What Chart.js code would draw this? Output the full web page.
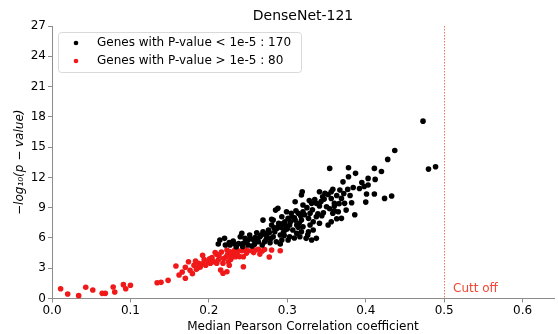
<!DOCTYPE html>
<html>
<head>
<meta charset="utf-8">
<script src="https://cdn.jsdelivr.net/npm/chart.js@4.4.1/dist/chart.umd.min.js"></script>
<style>
  html, body { margin: 0; padding: 0; background: #fff; }
  #wrap { width: 558px; height: 334px; }
</style>
</head>
<body>
<div id="wrap"><canvas id="scatterChart" width="558" height="334"></canvas></div>
<script>
// Genes with P-value < 1e-5 (black)
const sigCorr = [
  0.214, 0.220, 0.227, 0.233, 0.221, 0.240, 0.235, 0.212, 0.244, 0.250,
  0.255, 0.242, 0.246, 0.252, 0.257, 0.261, 0.263, 0.265, 0.269, 0.271,
  0.269, 0.274, 0.276, 0.278, 0.280, 0.282, 0.282, 0.284, 0.286, 0.288,
  0.288, 0.291, 0.293, 0.293, 0.297, 0.297, 0.250,
  0.280, 0.285, 0.295, 0.299, 0.301, 0.301, 0.303, 0.303, 0.305, 0.307,
  0.310, 0.310, 0.312, 0.314, 0.316, 0.318, 0.319, 0.318, 0.318, 0.320,
  0.320, 0.320, 0.324, 0.327, 0.327, 0.329, 0.329, 0.331, 0.331, 0.333,
  0.333, 0.337, 0.337, 0.341, 0.341, 0.341, 0.345, 0.346, 0.348, 0.350,
  0.356, 0.356, 0.356, 0.358, 0.360, 0.365, 0.367, 0.369, 0.369, 0.371,
  0.373, 0.375, 0.337, 0.312, 0.352, 0.354, 0.358,
  0.378, 0.387, 0.378, 0.395, 0.403, 0.411, 0.412, 0.420, 0.428, 0.437,
  0.403, 0.377, 0.401, 0.411, 0.424, 0.433, 0.400, 0.382, 0.360, 0.360,
  0.386, 0.473, 0.480, 0.489,
  0.226, 0.231, 0.238, 0.247, 0.253, 0.259, 0.262, 0.267, 0.272, 0.277,
  0.279, 0.283, 0.287, 0.289, 0.292, 0.295, 0.298, 0.300, 0.304, 0.306,
  0.309, 0.311, 0.315, 0.317, 0.322, 0.325, 0.328, 0.332, 0.335, 0.339,
  0.343, 0.347, 0.352, 0.354, 0.363, 0.366, 0.372, 0.380, 0.392, 0.398,
  0.363, 0.326, 0.309, 0.291, 0.268, 0.243, 0.258, 0.273, 0.296, 0.314,
  0.344, 0.384
];
const sigLogP = [
  5.79, 5.96, 5.30, 5.40, 5.30, 6.12, 5.13, 5.40, 5.47, 5.30,
  5.20, 6.46, 5.96, 6.29, 5.79, 6.51, 5.62, 6.12, 6.61, 5.62,
  7.77, 6.12, 6.78, 5.52, 7.28, 7.77, 6.12, 6.61, 5.62, 8.93,
  7.11, 6.29, 8.10, 5.79, 7.60, 6.78, 5.79,
  7.84, 8.76, 7.45, 8.59, 7.94, 5.79, 7.28, 6.12, 8.44, 6.78,
  9.58, 7.77, 7.28, 8.44, 6.12, 10.25, 10.57, 7.77, 6.61, 9.26,
  8.59, 7.11, 5.96, 7.94, 6.61, 8.44, 7.28, 9.43, 5.79, 7.60,
  6.78, 9.43, 8.10, 10.57, 9.16, 7.45, 10.08, 8.50, 10.42, 9.09,
  10.57, 9.91, 7.60, 8.44, 9.43, 8.59, 10.74, 9.92, 7.94, 11.56,
  9.43, 8.76, 5.96, 6.46, 7.28, 12.89, 10.81,
  12.95, 12.40, 12.06, 11.50, 11.90, 12.89, 11.80, 12.59, 13.78, 14.67,
  11.24, 10.81, 10.35, 10.35, 9.92, 10.15, 9.55, 9.49, 9.16, 8.69,
  8.30, 17.57, 12.82, 13.05,
  5.55, 5.70, 5.45, 5.60, 5.95, 6.05, 5.85, 6.30, 6.40, 6.55,
  5.95, 7.00, 6.95, 7.45, 7.05, 6.55, 7.20, 6.90, 7.60, 8.10,
  8.00, 8.70, 7.45, 8.20, 8.30, 9.00, 9.70, 8.80, 9.80, 8.40,
  9.60, 9.85, 10.30, 8.90, 10.20, 9.40, 10.40, 10.20, 10.90, 11.10,
  7.90, 6.30, 6.00, 5.40, 5.30, 5.15, 5.35, 5.85, 6.25, 7.05,
  8.20, 11.00
];

// Genes with P-value > 1e-5 (red)
const nonSigCorr = [
  0.011, 0.020, 0.034, 0.043, 0.052, 0.064, 0.068, 0.078, 0.080, 0.091,
  0.094, 0.100, 0.134, 0.139, 0.148, 0.158, 0.162, 0.166, 0.170, 0.170,
  0.174, 0.179, 0.181, 0.184, 0.187, 0.189, 0.192, 0.192, 0.199, 0.201,
  0.202, 0.210, 0.210, 0.212, 0.215, 0.218, 0.218, 0.222, 0.223, 0.225,
  0.228, 0.229, 0.232, 0.234, 0.237, 0.223, 0.227, 0.233, 0.242, 0.246,
  0.250, 0.255, 0.259, 0.263, 0.268, 0.280, 0.291, 0.244, 0.244, 0.277,
  0.176, 0.183, 0.186, 0.194, 0.196, 0.204, 0.206, 0.208, 0.213, 0.216,
  0.219, 0.224, 0.226, 0.230, 0.236, 0.239, 0.248, 0.257, 0.265, 0.271
];
const nonSigLogP = [
  0.97, 0.45, 0.28, 1.11, 0.84, 0.51, 0.51, 1.14, 0.64, 1.37,
  0.97, 1.31, 1.56, 1.60, 1.80, 3.22, 2.33, 2.62, 3.09, 2.00,
  3.64, 2.46, 3.29, 2.89, 3.49, 3.12, 4.28, 3.45, 3.61, 3.94,
  3.49, 4.38, 3.49, 3.81, 2.82, 3.49, 2.50, 4.14, 2.65, 3.64,
  3.88, 4.14, 4.48, 4.14, 4.73, 4.80, 4.63, 4.80, 4.73, 4.87,
  4.73, 4.73, 4.80, 4.87, 4.70, 4.80, 4.73, 4.14, 3.15, 4.11,
  2.80, 3.70, 3.05, 3.85, 3.30, 4.05, 3.65, 4.55, 4.20, 4.60,
  3.95, 4.35, 3.30, 4.55, 4.40, 4.15, 4.50, 4.55, 4.40, 4.85
];

const seriesLabels = ['Genes with P-value < 1e-5 : 170', 'Genes with P-value > 1e-5 : 80'];
const cutoffValue = 0.5;
const cutoffLabel = 'Cutt off';

const toPoints = (xs, ys) => xs.map((x, i) => ({ x: x, y: ys[i] }));

const FONT = "'DejaVu Sans', sans-serif";
const AXIS_GREY = '#8c8c8c';

// vertical cut-off line + label, and the boxed legend inside the plot
const extrasPlugin = {
  id: 'extras',
  afterDatasetsDraw(chart) {
    const { ctx, chartArea, scales } = chart;
    const xPix = Math.round(scales.x.getPixelForValue(cutoffValue));
    ctx.save();
    ctx.strokeStyle = 'rgba(240, 90, 60, 0.85)';
    ctx.lineWidth = 1;
    ctx.setLineDash([1.5, 1.5]);
    ctx.beginPath();
    ctx.moveTo(xPix + 0.5, chartArea.top);
    ctx.lineTo(xPix + 0.5, chartArea.bottom);
    ctx.stroke();
    ctx.setLineDash([]);
    ctx.fillStyle = 'rgba(240, 50, 30, 0.9)';
    ctx.font = '12px ' + FONT;
    ctx.textBaseline = 'middle';
    ctx.fillText(cutoffLabel, xPix + 9, chartArea.bottom - 10);

    // legend
    const bx = chartArea.left + 6, by = chartArea.top + 6, bw = 243, bh = 40;
    ctx.fillStyle = 'rgba(255,255,255,0.8)';
    ctx.strokeStyle = '#d9d9d9';
    ctx.lineWidth = 1;
    ctx.beginPath();
    ctx.roundRect(bx + 0.5, by + 0.5, bw, bh, 3);
    ctx.fill();
    ctx.stroke();
    ctx.font = '12px ' + FONT;
    chart.data.datasets.forEach((ds, i) => {
      const cy = by + 11 + i * 18;
      ctx.fillStyle = ds.backgroundColor;
      ctx.beginPath();
      ctx.arc(bx + 18, cy, 2.3, 0, Math.PI * 2);
      ctx.fill();
      ctx.fillStyle = '#000';
      ctx.fillText(ds.label, bx + 39, cy);
    });
    ctx.restore();
  }
};

const ctx = document.getElementById('scatterChart').getContext('2d');
const scatterChart = new Chart(ctx, {
  type: 'scatter',
  data: {
    datasets: [{
      label: seriesLabels[0],
      data: toPoints(sigCorr, sigLogP),
      backgroundColor: '#000000',
      borderWidth: 0,
      pointRadius: 2.8
    }, {
      label: seriesLabels[1],
      data: toPoints(nonSigCorr, nonSigLogP),
      backgroundColor: '#f01818',
      borderWidth: 0,
      pointRadius: 2.8
    }]
  },
  options: {
    responsive: false,
    animation: false,
    layout: { padding: { top: 26, right: 3, left: 0, bottom: 0 } },
    plugins: {
      legend: { display: false },
      tooltip: { enabled: false },
      title: { display: false }
    },
    scales: {
      x: {
        type: 'linear',
        min: 0,
        max: 0.64,
        afterFit: scale => { scale.height = 35.5; },
        ticks: {
          stepSize: 0.1,
          includeBounds: false,
          color: '#000',
          font: { family: FONT, size: 12 },
          padding: 1,
          callback: v => v.toFixed(1)
        },
        grid: { drawOnChartArea: false, drawTicks: true, tickLength: 4, color: AXIS_GREY },
        border: { display: true, color: AXIS_GREY },
        title: {
          display: true,
          text: 'Median Pearson Correlation coefficient',
          color: '#000',
          font: { family: FONT, size: 12 },
          padding: { top: 0, bottom: 0 }
        }
      },
      y: {
        min: 0,
        max: 27,
        afterFit: scale => { scale.width = 52; },
        ticks: {
          stepSize: 3,
          color: '#000',
          font: { family: FONT, size: 12 },
          padding: 2
        },
        grid: { drawOnChartArea: false, drawTicks: true, tickLength: 4, color: AXIS_GREY },
        border: { display: true, color: AXIS_GREY },
        title: {
          display: true,
          text: '\u2212log\u2081\u2080(p \u2212 value)',
          color: '#000',
          font: { family: FONT, size: 12, style: 'italic' },
          padding: { top: 13, bottom: 0 }
        }
      }
    }
  },
  plugins: [extrasPlugin, {
    id: 'chartTitle',
    afterDraw(chart) {
      const { ctx, chartArea } = chart;
      ctx.save();
      ctx.font = '14px ' + FONT;
      ctx.fillStyle = '#000';
      ctx.textAlign = 'center';
      ctx.textBaseline = 'middle';
      ctx.fillText('DenseNet-121', (chartArea.left + chartArea.right) / 2, 16);
      ctx.restore();
    }
  }]
});
</script>
</body>
</html>
